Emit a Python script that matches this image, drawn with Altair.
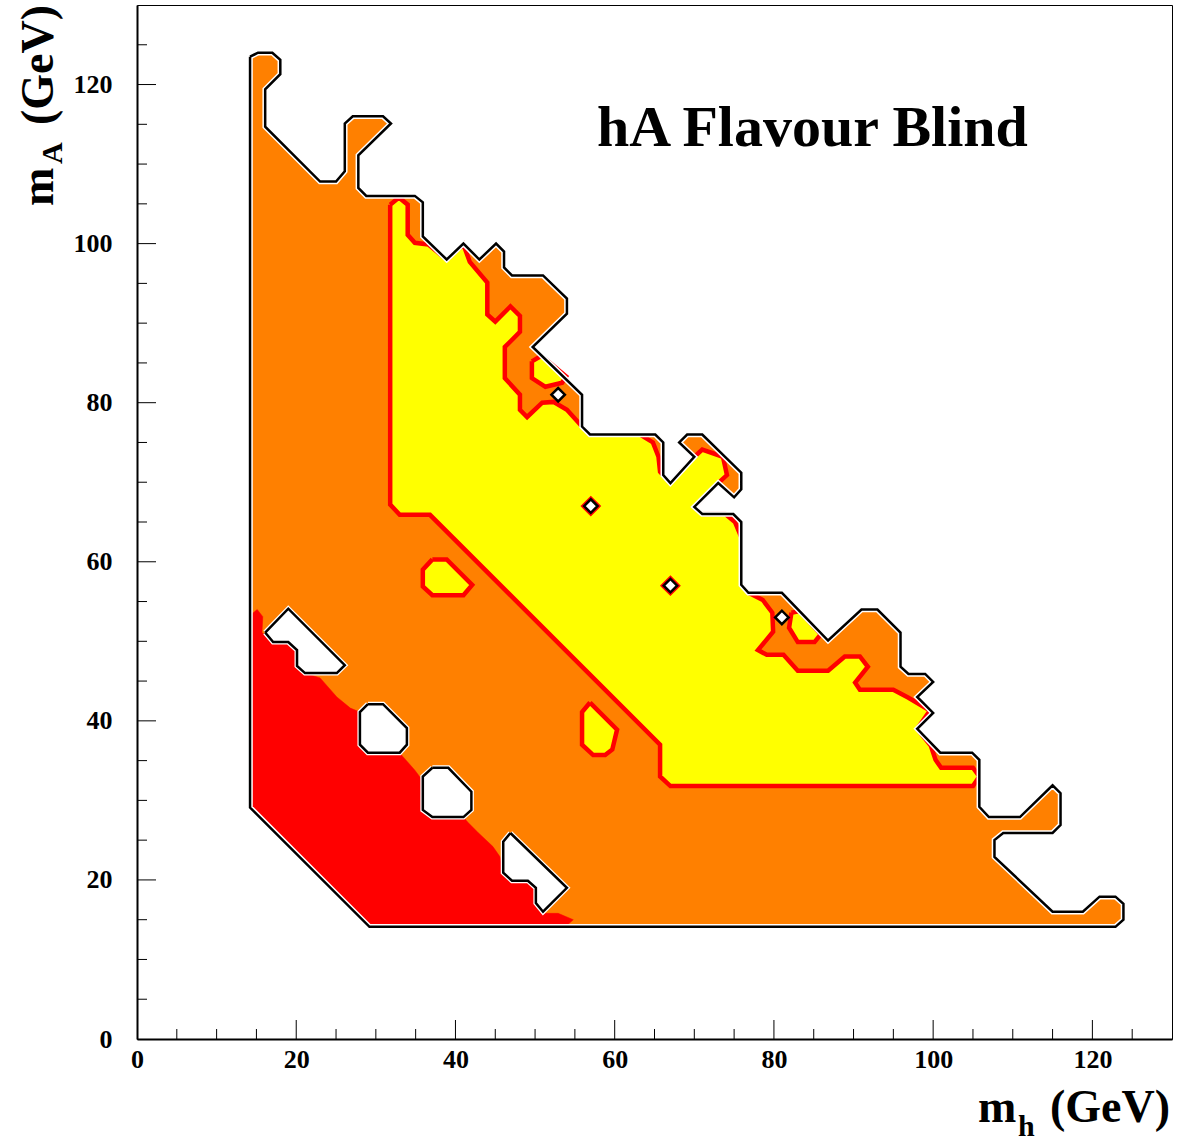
import altair as alt
import pandas as pd

# ---------------------------------------------------------------
# Excluded regions in the (m_h, m_A) plane, vertices in GeV
# ---------------------------------------------------------------

# outer contour (orange area, black outline)
OUTER = [
    (14.2, 123.5), (15.2, 124.0), (17.0, 124.0), (18.0, 123.1), (18.0, 121.3),
    (16.1, 119.4), (16.1, 114.7), (23.0, 107.8), (25.0, 107.8), (26.1, 109.1),
    (26.1, 115.1), (27.1, 116.0), (30.9, 116.0), (31.9, 115.1), (27.8, 111.1),
    (27.8, 107.0), (28.8, 106.0), (34.9, 106.0), (35.9, 105.2), (35.9, 100.9),
    (38.9, 98.0), (41.0, 100.0), (43.0, 98.0), (45.1, 100.0), (46.1, 99.0),
    (46.1, 97.0), (47.1, 96.0), (51.0, 96.0), (54.0, 93.1), (54.0, 91.2),
    (49.7, 87.0), (55.9, 81.0), (55.9, 77.0), (56.9, 76.0), (65.1, 76.0),
    (66.1, 75.0), (66.1, 70.9), (67.0, 69.9), (70.0, 73.2), (68.1, 75.0),
    (69.1, 76.0), (71.0, 76.0), (75.9, 71.2), (75.9, 69.1), (75.0, 68.1),
    (73.0, 69.9), (70.0, 66.9), (71.0, 66.0), (74.9, 66.0), (75.9, 65.0),
    (75.9, 57.1), (76.8, 56.1), (81.0, 56.1), (86.8, 50.1), (91.0, 54.0),
    (93.0, 54.0), (95.9, 51.1), (95.9, 46.8), (96.9, 45.9), (99.0, 45.9),
    (100.0, 44.9), (98.0, 43.0), (100.0, 41.0), (98.0, 39.0), (100.9, 36.0),
    (104.9, 36.0), (105.8, 35.1), (105.8, 29.2), (107.0, 27.9), (110.9, 27.9),
    (115.0, 31.9), (116.0, 30.9), (116.0, 26.9), (115.0, 25.9), (108.8, 25.9),
    (107.7, 25.0), (107.7, 22.9), (115.0, 16.0), (118.8, 16.0), (120.9, 17.9),
    (122.9, 17.9), (123.9, 17.0), (123.9, 15.0), (122.9, 14.1), (29.2, 14.1),
    (14.2, 29.1),
]

# inner contour (yellow area, red outline)
INNER = [
    (31.8, 104.9), (32.9, 105.8), (34.0, 104.9), (34.0, 101.1), (34.9, 100.1),
    (36.6, 99.9), (38.9, 98.0), (41.0, 99.9), (41.8, 97.7), (44.0, 95.1),
    (44.0, 91.1), (45.0, 90.2), (46.9, 92.1), (48.1, 90.9), (48.1, 88.9),
    (46.2, 87.0), (46.2, 83.1), (48.1, 81.0), (48.1, 79.1), (49.0, 78.2),
    (50.9, 80.0), (52.3, 80.1), (54.0, 79.1), (55.9, 77.0), (56.9, 76.0),
    (63.2, 76.0), (64.8, 75.0), (65.5, 73.2), (65.7, 71.3), (67.0, 69.9),
    (70.0, 73.2), (71.0, 74.1), (73.6, 73.2), (74.1, 70.9), (73.0, 69.9),
    (70.0, 66.9), (71.0, 66.0), (73.9, 66.0), (75.1, 65.0), (75.9, 63.1),
    (75.9, 57.1), (76.8, 56.1), (78.6, 55.2), (79.8, 53.6), (79.9, 51.2),
    (78.0, 48.9), (79.1, 48.3), (81.2, 48.3), (83.0, 46.3), (86.8, 46.3),
    (88.9, 48.1), (90.8, 48.1), (91.8, 46.8), (90.2, 44.8), (90.8, 43.9),
    (95.0, 43.9), (96.9, 42.9), (99.6, 41.3), (98.0, 39.0), (99.7, 36.9),
    (100.3, 35.1), (101.0, 34.1), (105.0, 34.1), (105.8, 33.0), (105.0, 31.8),
    (67.0, 31.8), (65.7, 33.0), (65.7, 37.0), (36.8, 65.9), (33.0, 65.9),
    (31.8, 67.2),
]

# small yellow islands inside the orange area
ISLAND_A = [(37.1, 60.3), (38.9, 60.3), (42.1, 57.1), (41.0, 55.8),
            (37.1, 55.8), (35.9, 56.9), (35.9, 59.0)]
ISLAND_B = [(56.9, 42.3), (60.3, 38.9), (59.7, 36.4), (58.8, 35.7),
            (57.3, 35.7), (55.9, 37.0), (55.9, 41.1)]
ISLAND_C = [(49.6, 85.2), (50.8, 85.9), (53.9, 83.3), (53.4, 82.5),
            (51.3, 82.0), (49.6, 83.1)]
ISLAND_D = [(82.2, 53.6), (83.2, 53.8), (85.9, 50.9), (85.1, 49.9),
            (83.0, 49.9), (81.9, 51.7)]

# red area at low masses
CORE = [
    (14.0, 53.1), (15.1, 54.0), (15.8, 53.1), (15.7, 51.1), (17.1, 49.9),
    (19.0, 49.9), (20.1, 48.9), (20.1, 46.9), (21.1, 46.0), (23.0, 45.4),
    (25.1, 43.0), (26.8, 41.6), (28.0, 41.1), (28.0, 37.0), (29.0, 36.0),
    (33.0, 36.0), (33.4, 35.5), (34.9, 33.8), (35.8, 32.6), (35.9, 28.8),
    (37.1, 27.9), (41.0, 27.9), (41.5, 27.3), (42.8, 26.0), (44.7, 24.2),
    (45.6, 22.9), (46.0, 20.9), (47.1, 19.9), (49.1, 19.9), (50.1, 19.0),
    (50.1, 17.1), (51.0, 15.8), (52.9, 15.8), (54.8, 15.0), (53.8, 14.1),
    (29.0, 14.1), (14.0, 29.1),
]

# allowed holes (white, black outline)
HOLE_1 = [(16.1, 51.1), (19.0, 54.1), (26.1, 47.0), (25.1, 46.0), (21.1, 46.0),
          (20.1, 46.9), (20.1, 48.9), (19.0, 49.9), (17.1, 49.9)]
HOLE_2 = [(29.0, 42.1), (30.9, 42.1), (33.9, 39.1), (33.9, 37.0), (33.0, 36.0),
          (29.0, 36.0), (28.0, 37.0), (28.0, 41.1)]
HOLE_3 = [(37.1, 34.1), (39.1, 34.1), (42.0, 31.1), (42.0, 28.8), (41.0, 27.9),
          (37.1, 27.9), (35.9, 28.8), (35.9, 33.0)]
HOLE_4 = [(46.9, 25.9), (54.0, 19.0), (51.0, 16.0), (50.1, 17.1), (50.1, 19.0),
          (49.1, 19.9), (47.1, 19.9), (46.0, 20.9), (46.0, 24.8)]

# single-point holes (drawn as small diamonds)
DOT_MH = [52.9, 57.0, 67.0, 81.0]
DOT_MA = [81.0, 67.0, 57.0, 53.0]
DOT_IN_YELLOW = [False, True, True, False]

X_MAJOR = [20, 40, 60, 80, 100, 120]
X_MINOR = [5, 10, 15, 25, 30, 35, 45, 50, 55, 65, 70, 75, 85, 90, 95,
           105, 110, 115, 125]
Y_MAJOR = [20, 40, 60, 80, 100, 120]
Y_MINOR = [5, 10, 15, 25, 30, 35, 45, 50, 55, 65, 70, 75, 85, 90, 95,
           105, 110, 115, 125]
TICK_LABELS = [0, 20, 40, 60, 80, 100, 120]

ORANGE = "#ff8000"
RED = "#ff0000"
YELLOW = "#ffff00"
SERIF = "Liberation Serif"

W, H = 1035, 1034


def polygons(named):
    rows = []
    for name, pts in named.items():
        closed = list(pts) + [pts[0]]
        for i, (mh, ma) in enumerate(closed):
            rows.append({"poly": name, "i": i, "mh": mh, "mA": ma})
    return pd.DataFrame(rows)


xscale = alt.Scale(domain=[0, 130], nice=False, zero=False)
yscale = alt.Scale(domain=[0, 130], nice=False, zero=False)
xaxis = alt.Axis(values=TICK_LABELS, title=None, ticks=False, grid=False,
                 domainColor="black", domainWidth=2, labelFont=SERIF,
                 labelFontWeight="bold", labelFontSize=26, labelColor="black",
                 labelPadding=7, labelFlush=False)
yaxis = alt.Axis(values=TICK_LABELS, title=None, ticks=False, grid=False,
                 domainColor="black", domainWidth=2, labelFont=SERIF,
                 labelFontWeight="bold", labelFontSize=26, labelColor="black",
                 labelPadding=25, labelFlush=False)
X = alt.X("mh:Q", scale=xscale, axis=xaxis)
Y = alt.Y("mA:Q", scale=yscale, axis=yaxis)


def area_layer(named, fill, stroke, width, join="round"):
    return alt.Chart(polygons(named)).mark_line(
        fill=fill, stroke=stroke, strokeWidth=width, strokeJoin=join
    ).encode(x=X, y=Y, detail="poly:N", order=alt.Order("i:Q"))


def outline_layer(named, stroke, width):
    return alt.Chart(polygons(named)).mark_line(
        stroke=stroke, strokeWidth=width, strokeJoin="miter"
    ).encode(x=X, y=Y, detail="poly:N", order=alt.Order("i:Q"))


orange = area_layer({"outer": OUTER}, ORANGE, ORANGE, 0.5)
red = area_layer({"core": CORE}, RED, RED, 0.5)
yellow = area_layer({"inner": INNER, "a": ISLAND_A, "b": ISLAND_B,
                     "c": ISLAND_C, "d": ISLAND_D}, YELLOW, RED, 4.5, "miter")
holes = {"h1": HOLE_1, "h2": HOLE_2, "h3": HOLE_3, "h4": HOLE_4}
hole_halo = outline_layer(holes, "white", 5)
hole_fill = area_layer(holes, "white", "black", 2.5, "miter")
outer_halo = outline_layer({"outer": OUTER}, "white", 5.5)
outer_line = outline_layer({"outer": OUTER}, "black", 2.5)

dots = pd.DataFrame({"mh": DOT_MH, "mA": DOT_MA, "yel": DOT_IN_YELLOW})
dot_ring = alt.Chart(dots).transform_filter("datum.yel").mark_point(
    shape="diamond", size=300, filled=False, stroke=RED, strokeWidth=2.5,
    opacity=1
).encode(x=X, y=Y)
dot = alt.Chart(dots).mark_point(
    shape="diamond", size=180, filled=True, fill="white", stroke="black",
    strokeWidth=2.5, opacity=1
).encode(x=X, y=Y)

# inward-pointing ticks
xmaj = alt.Chart(pd.DataFrame({"mh": X_MAJOR})).mark_rule(
    color="black", strokeWidth=1).encode(x=X, y=alt.value(H), y2=alt.value(H - 19))
xmin = alt.Chart(pd.DataFrame({"mh": X_MINOR})).mark_rule(
    color="black", strokeWidth=1).encode(x=X, y=alt.value(H), y2=alt.value(H - 10))
ymaj = alt.Chart(pd.DataFrame({"mA": Y_MAJOR})).mark_rule(
    color="black", strokeWidth=1).encode(y=Y, x=alt.value(0), x2=alt.value(19))
ymin = alt.Chart(pd.DataFrame({"mA": Y_MINOR})).mark_rule(
    color="black", strokeWidth=1).encode(y=Y, x=alt.value(0), x2=alt.value(10))

one = pd.DataFrame({"k": [0]})


def label(text, x, y, size, align="left", angle=0):
    return alt.Chart(one).mark_text(
        font=SERIF, fontWeight="bold", fontSize=size, color="black",
        align=align, baseline="alphabetic", angle=angle
    ).encode(x=alt.value(x), y=alt.value(y), text=alt.value(text))


texts = [
    label("hA Flavour Blind", 460, 141, 58),
    label("m", 841, 1117, 46),
    label("h", 881, 1131, 30),
    label("(GeV)", 1033, 1117, 46, align="right"),
    label("m", -84, 201, 46, angle=270),
    label("A", -75, 159, 30, angle=270),
    label("(GeV)", -84, 0, 46, align="right", angle=270),
]

chart = alt.layer(
    orange, red, yellow, hole_halo, hole_fill, outer_halo, outer_line,
    dot_ring, dot, xmaj, xmin, ymaj, ymin, *texts
).properties(
    width=W, height=H,
    padding={"left": 137, "top": 5, "right": 7, "bottom": 105},
    autosize=alt.AutoSizeParams(type="none"),
    background="white",
).configure_view(stroke="black", strokeWidth=1)

chart.save("out.html", embed_options={"renderer": "svg", "actions": False})
